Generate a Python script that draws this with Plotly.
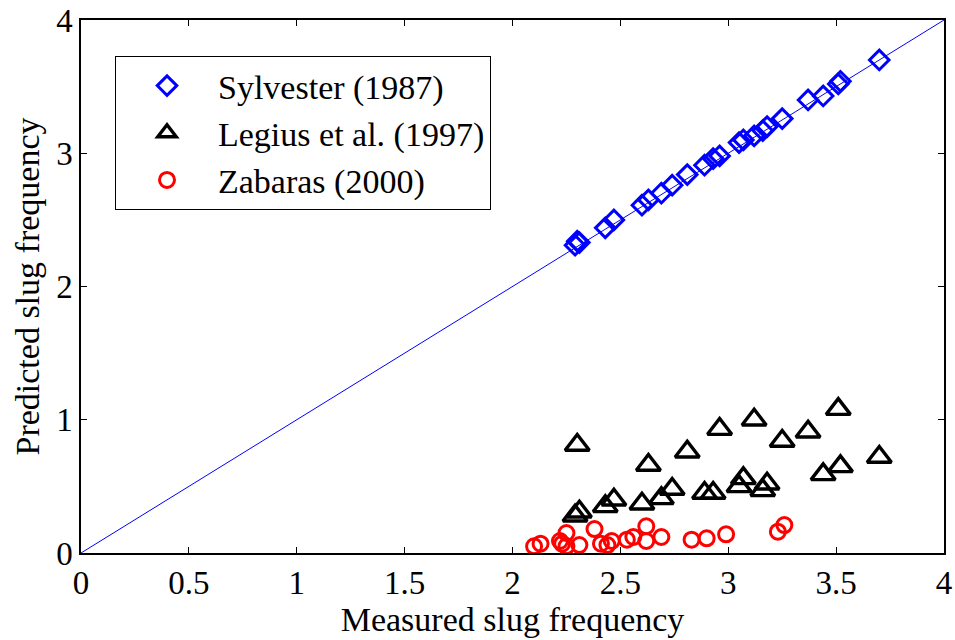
import plotly.graph_objects as go

# Measured slug frequency shared by the Sylvester and Legius predictions
measured = [2.29, 2.30, 2.31, 2.43, 2.47, 2.60, 2.63, 2.69, 2.74, 2.81, 2.89, 2.93,
            2.96, 3.05, 3.07, 3.12, 3.16, 3.18, 3.25, 3.37, 3.44, 3.51, 3.52, 3.70]
sylvester = [2.31, 2.34, 2.33, 2.44, 2.50, 2.61, 2.65, 2.70, 2.76, 2.84, 2.91, 2.96,
             2.98, 3.08, 3.10, 3.13, 3.17, 3.20, 3.26, 3.40, 3.43, 3.52, 3.54, 3.70]
legius = [0.28, 0.81, 0.31, 0.35, 0.40, 0.37, 0.66, 0.41, 0.48, 0.76, 0.45, 0.45,
          0.93, 0.50, 0.56, 1.00, 0.47, 0.52, 0.84, 0.91, 0.59, 1.08, 0.65, 0.72]

# Zabaras correlation evaluated on its own set of measurements
zabaras_measured = [2.10, 2.13, 2.22, 2.23, 2.25, 2.25, 2.31, 2.38, 2.41, 2.44, 2.46,
                    2.53, 2.56, 2.62, 2.62, 2.69, 2.83, 2.90, 2.99, 3.23, 3.26]
zabaras = [0.05, 0.07, 0.09, 0.07, 0.15, 0.05, 0.06, 0.18, 0.07, 0.06, 0.09,
           0.10, 0.12, 0.20, 0.09, 0.12, 0.10, 0.11, 0.14, 0.16, 0.21]

# Perfect-agreement line and axis ticks
parity = [0, 4]
x_ticks = [0, 0.5, 1, 1.5, 2, 2.5, 3, 3.5, 4]
y_ticks = [0, 1, 2, 3, 4]

FONT = "Times New Roman, Liberation Serif, serif"

fig = go.Figure()
fig.add_trace(go.Scatter(x=parity, y=parity, mode="lines",
                         line=dict(color="#0000ff", width=1), showlegend=False,
                         hoverinfo="skip"))
fig.add_trace(go.Scatter(x=measured, y=sylvester, mode="markers", name="Sylvester (1987)",
                         marker=dict(symbol="diamond-open", size=15, color="#0000ff",
                                     line=dict(width=3, color="#0000ff"))))
fig.add_trace(go.Scatter(x=measured, y=legius, mode="markers", name="Legius et al. (1997)",
                         marker=dict(symbol="triangle-up-open", size=21, color="#000000",
                                     line=dict(width=3.4, color="#000000"))))
fig.add_trace(go.Scatter(x=zabaras_measured, y=zabaras, mode="markers", name="Zabaras (2000)",
                         marker=dict(symbol="circle-open", size=15, color="#ff0000",
                                     line=dict(width=3, color="#ff0000"))))

axis_common = dict(
    showline=True, linecolor="black", linewidth=1.5, mirror="allticks",
    ticks="inside", ticklen=6, tickcolor="black", tickwidth=1,
    showgrid=False, zeroline=False, automargin=False,
    tickfont=dict(family=FONT, size=33, color="black"),
)

fig.update_xaxes(range=parity, tickvals=x_ticks, ticktext=[f"{v:g}" for v in x_ticks],
                 title=dict(text="Measured slug frequency",
                            font=dict(family=FONT, size=34, color="black"), standoff=4),
                 **axis_common)
fig.update_yaxes(range=parity, tickvals=y_ticks, ticktext=[str(v) for v in y_ticks],
                 title=dict(text="Predicted slug frequency",
                            font=dict(family=FONT, size=34, color="black"), standoff=6),
                 **axis_common)

fig.update_layout(
    width=955, height=640,
    margin=dict(l=81, r=11, t=20, b=87),
    paper_bgcolor="white", plot_bgcolor="white",
    font=dict(family=FONT, color="black"),
    legend=dict(x=0.0394, y=0.9325, xanchor="left", yanchor="top",
                bgcolor="white", bordercolor="black", borderwidth=1,
                font=dict(family=FONT, size=34, color="black"),
                itemwidth=92, tracegroupgap=0),
)

fig.write_html("out.html")
